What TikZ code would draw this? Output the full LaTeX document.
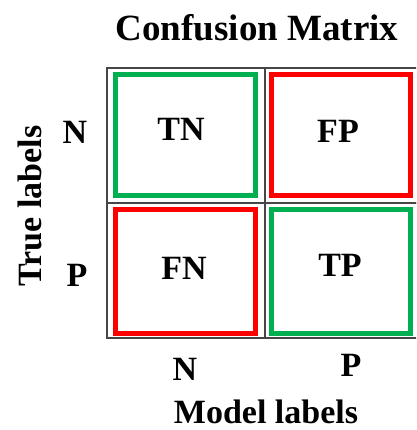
\documentclass[tikz,border=0pt]{standalone}
\usepackage{fontspec}
\setmainfont{Liberation Serif}
\definecolor{okgreen}{RGB}{0,176,80}
\definecolor{badred}{RGB}{255,0,0}
\definecolor{gridgray}{RGB}{70,70,70}
\begin{document}
\begin{tikzpicture}[x=1pt,y=-1pt,
  txt/.style={inner sep=0pt,font=\fontsize{34}{40}\selectfont\bfseries},
  titletxt/.style={inner sep=0pt,font=\fontsize{37}{44}\selectfont\bfseries},
  cell/.style={draw=gridgray,line width=1.8pt,minimum width=158pt,minimum height=135pt,inner sep=0pt},
  goodbox/.style={draw=okgreen,line width=5pt,inner sep=0pt},
  badbox/.style={draw=badred,line width=5pt,inner sep=0pt}]
\useasboundingbox (0,0) rectangle (416,430);
\clip (0,0) rectangle (416,430);
% grid cells
\node[cell] (c11) at (186,135.5) {};
\node[cell] (c12) at (344,135.5) {};
\node[cell] (c21) at (186,270.5) {};
\node[cell] (c22) at (344,270.5) {};
% coloured boxes
\node[goodbox,minimum width=140pt,minimum height=121pt] (bTN) at (185.5,135) {};
\node[badbox,minimum width=139pt,minimum height=121pt] (bFP) at (341,135) {};
\node[badbox,minimum width=140pt,minimum height=124pt] (bFN) at (185.5,271.5) {};
\node[goodbox,minimum width=139pt,minimum height=124pt] (bTP) at (341,271.5) {};
% cell labels
\node[txt] (tTN) at (181,129.5) {TN};
\node[txt] (tFP) at (338,131) {FP};
\node[txt] (tFN) at (184,268) {FN};
\node[txt] (tTP) at (340,265) {TP};
% axis labels
\node[txt] (rowN) at (75,132) {N};
\node[txt] (rowP) at (77,275) {P};
\node[txt] (colN) at (185,369) {N};
\node[txt] (colP) at (351,365) {P};
\node[titletxt] (title) at (257,28) {Confusion Matrix};
\node[txt,rotate=90] (ylab) at (30,206) {True labels};
\node[txt] (xlab) at (266,412) {Model labels};
\end{tikzpicture}
\end{document}
